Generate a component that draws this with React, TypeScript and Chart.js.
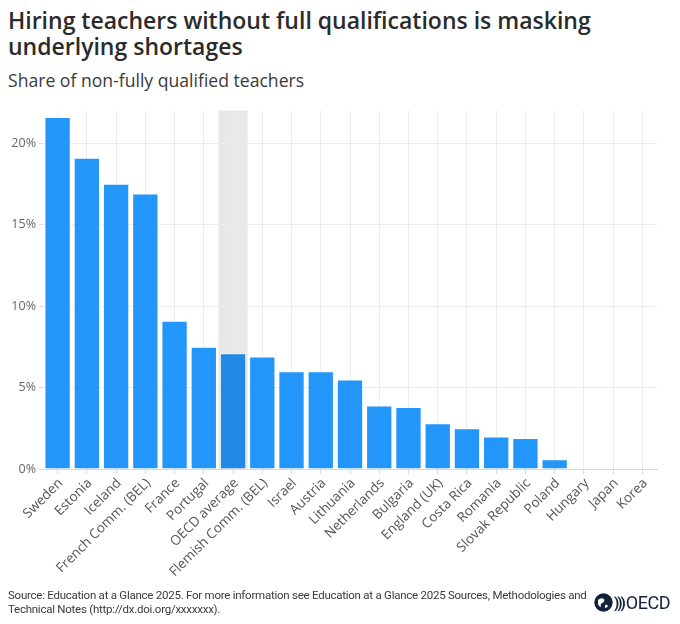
import React, { useEffect, useRef } from "react";
import { Chart, registerables } from "chart.js";

Chart.register(...registerables);

const categories = [
  "Sweden", "Estonia", "Iceland", "French Comm. (BEL)", "France", "Portugal",
  "OECD average", "Flemish Comm. (BEL)", "Israel", "Austria", "Lithuania",
  "Netherlands", "Bulgaria", "England (UK)", "Costa Rica", "Romania",
  "Slovak Republic", "Poland", "Hungary", "Japan", "Korea",
];
const shareValues: (number | null)[] = [
  21.6, 19.1, 17.5, 16.9, 9.1, 7.5, 7.1, 6.9, 6.0, 6.0, 5.5, 3.9, 3.8, 2.8,
  2.5, 2.0, 1.9, 0.6, null, null, null,
];
const highlightCategory = "OECD average";
const yTicks = [0, 5, 10, 15, 20];

const FONT = "Roboto, 'Noto Sans', sans-serif";
const FONT2 = "'Open Sans', 'Noto Sans', sans-serif";

const CANVAS_H = 490;
const PLOT_BOTTOM = 369;

const bandPlugin = {
  id: "oecdBand",
  beforeDraw(chart: any) {
    const idx = categories.indexOf(highlightCategory);
    const x = chart.scales.x;
    const area = chart.chartArea;
    const w = (area.right - area.left) / categories.length;
    const cx = x.getPixelForValue(idx);
    const ctx = chart.ctx;
    ctx.save();
    ctx.fillStyle = "#e8e8e8";
    ctx.fillRect(cx - w / 2, area.top, w, area.bottom - area.top);
    ctx.restore();
  },
};

// draws the category labels of the x scale at exactly 45 degrees
const rotatedLabelsPlugin = {
  id: "rotatedLabels",
  afterDraw(chart: any) {
    const xs = chart.scales.x;
    const ctx = chart.ctx;
    const labels = chart.data.labels as string[];
    ctx.save();
    ctx.font = `13.5px ${FONT2}`;
    ctx.fillStyle = "#555";
    ctx.textAlign = "right";
    ctx.textBaseline = "middle";
    labels.forEach((label, i) => {
      const px = xs.getPixelForTick(i);
      ctx.save();
      ctx.translate(px + 3, xs.top + 12);
      ctx.rotate(-Math.PI / 4);
      ctx.fillText(label, 0, 0);
      ctx.restore();
    });
    ctx.restore();
  },
};

function ChartBox() {
  const ref = useRef<HTMLCanvasElement | null>(null);
  useEffect(() => {
    if (!ref.current) return;
    const colors = categories.map((c) =>
      c === highlightCategory ? "#2389e6" : "#2396fa"
    );
    const chart = new Chart(ref.current, {
      type: "bar",
      data: {
        labels: categories,
        datasets: [
          {
            data: shareValues,
            backgroundColor: colors,
            borderColor: "rgba(255,255,255,0.45)",
            borderWidth: 1,
            barPercentage: 0.9,
            categoryPercentage: 1,
          },
        ],
      },
      options: {
        responsive: false,
        animation: false,
        layout: { padding: { top: 9, right: 23, left: 0, bottom: 0 } },
        plugins: {
          legend: { display: false },
          tooltip: { enabled: false },
        },
        scales: {
          x: {
            offset: true,
            grid: {
              offset: false,
              color: "#ececec",
              tickColor: "#d8d8d8",
              tickLength: 5,
              lineWidth: 1,
            },
            border: { color: "#dcdcdc" },
            ticks: {
              display: false,
              autoSkip: false,
            },
            afterFit(scale: any) {
              scale.height = CANVAS_H - PLOT_BOTTOM;
            },
          },
          y: {
            min: 0,
            max: 22,
            afterBuildTicks(scale: any) {
              scale.ticks = yTicks.map((v) => ({ value: v }));
            },
            grid: {
              color: "#ececec",
              tickColor: "#dcdcdc",
              tickLength: 4,
            },
            border: { display: false },
            ticks: {
              color: "#666",
              padding: 3,
              font: { family: FONT2, size: 12.5 },
              callback: (v: any) => v + "%",
            },
            afterFit(scale: any) {
              scale.width = 43;
            },
          },
        },
      },
      plugins: [bandPlugin, rotatedLabelsPlugin],
    });
    return () => chart.destroy();
  }, []);
  return (
    <canvas ref={ref} width={680} height={CANVAS_H} style={{ display: "block" }} />
  );
}

export default function App() {
  return (
    <div
      style={{
        position: "relative",
        width: 680,
        height: 624,
        margin: -8,
        background: "#fff",
        fontFamily: FONT,
        overflow: "hidden",
      }}
    >
      <div style={{ position: "absolute", left: 0, top: 100 }}>
        <ChartBox />
      </div>
      <div
        style={{
          position: "absolute",
          left: 8,
          top: 8,
          width: 670,
          fontFamily: FONT2,
          fontSize: 23,
          fontWeight: 600,
          lineHeight: "25.7px",
          color: "#2b2b2b",
          whiteSpace: "nowrap",
        }}
      >
        Hiring teachers without full qualifications is masking
        <br />
        underlying shortages
      </div>
      <div
        style={{
          position: "absolute",
          left: 8,
          top: 68,
          fontFamily: FONT2,
          fontSize: 17.6,
          color: "#3a3a3a",
          lineHeight: "24px",
          whiteSpace: "nowrap",
        }}
      >
        Share of non-fully qualified teachers
      </div>
      <div
        style={{
          position: "absolute",
          left: 8,
          top: 588,
          width: 600,
          fontSize: 11.5,
          lineHeight: "14px",
          letterSpacing: -0.25,
          color: "#3a3a3a",
          whiteSpace: "nowrap",
        }}
      >
        Source: Education at a Glance 2025. For more information see Education at a Glance 2025 Sources, Methodologies and
        <br />
        Technical Notes (http://dx.doi.org/xxxxxxx).
      </div>
      <div
        style={{
          position: "absolute",
          left: 594,
          top: 592,
          display: "flex",
          alignItems: "center",
          color: "#14213d",
        }}
      >
        <svg width="19" height="19" viewBox="0 0 19 19">
          <circle cx="9.5" cy="9.5" r="9.2" fill="#14213d" />
          <path d="M4 7 q3 -3 6 -1 q1 3 -2 4 q-2 1 -1 4 q-3 -1 -3 -4z" fill="#fff" />
          <path d="M11 12 q2 -1 3 1 q-1 2 -3 2z" fill="#fff" />
        </svg>
        <span style={{ fontSize: 15, fontWeight: 700, marginLeft: 1, letterSpacing: -2 }}>)))</span>
        <span style={{ fontSize: 18, marginLeft: 2, letterSpacing: -0.5 }}>OECD</span>
      </div>
    </div>
  );
}
